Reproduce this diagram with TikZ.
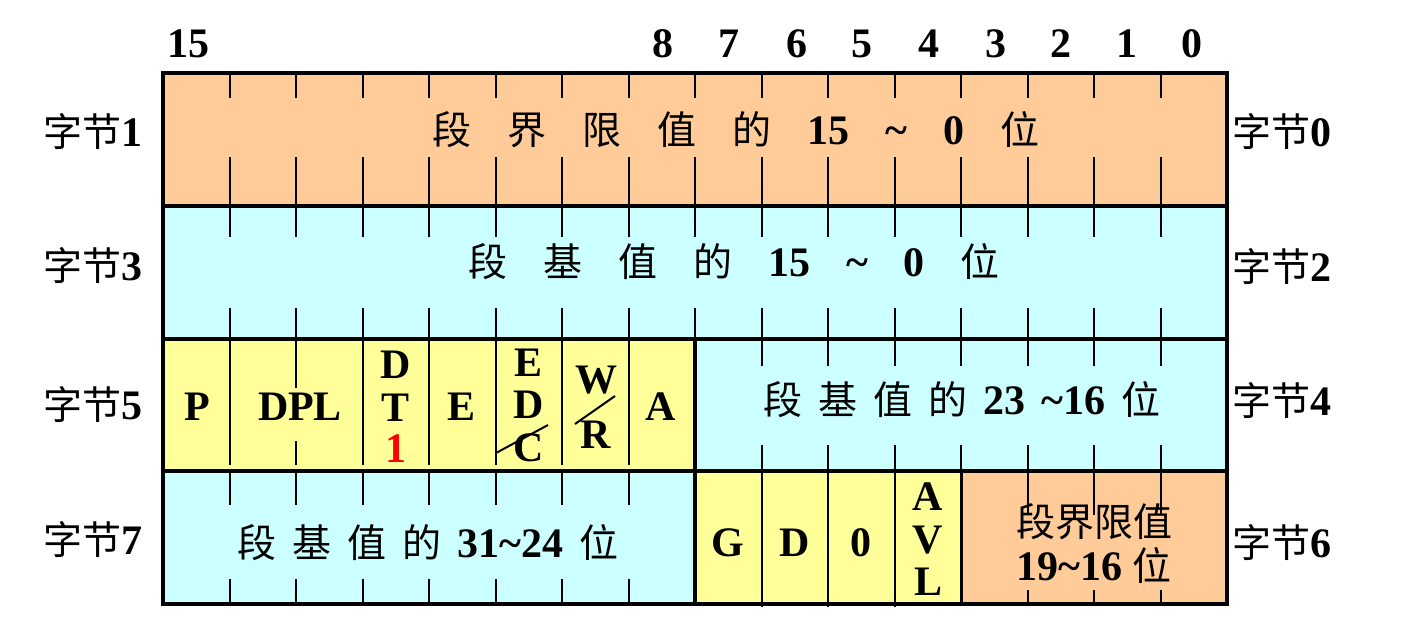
\documentclass[tikz,border=0pt]{standalone}
\usepackage{fontspec}
\setmainfont{Liberation Serif}
\newfontfamily\cjk{Noto Sans CJK SC}
\newcommand{\mytilde}{\textasciitilde}
\newcommand{\gapL}{\hspace{36pt}}
\newcommand{\gapS}{\hspace{16pt}}
\newcommand{\cjtxt}[1]{{\cjk\mdseries\fontsize{39}{44}\selectfont #1}}
\definecolor{peach}{HTML}{FFCC99}
\definecolor{aqua}{HTML}{CCFFFF}
\definecolor{lemon}{HTML}{FFFF99}
\tikzset{
  thickline/.style={line width=4pt, line cap=rect},
  thinline/.style={line width=2pt},
  txt/.style={inner sep=0pt, font=\fontsize{42}{46}\selectfont\bfseries},
}
\begin{document}
\begin{tikzpicture}[x=1pt,y=-1pt]
\useasboundingbox (0,0) rectangle (1401,638);
% fills
\fill[peach] (163,73) rectangle (1227,206);
\fill[aqua] (163,206) rectangle (1227,339);
\fill[lemon] (163,339) rectangle (695,471);
\fill[aqua] (695,339) rectangle (1227,471);
\fill[aqua] (163,471) rectangle (695,604);
\fill[lemon] (695,471) rectangle (961,604);
\fill[peach] (961,471) rectangle (1227,604);
% row 1 and 2 ticks
\foreach \i in {1,...,15}{
  \draw[thinline] (163+\i*66.5,73) -- (163+\i*66.5,98);
  \draw[thinline] (163+\i*66.5,157) -- (163+\i*66.5,206);
  \draw[thinline] (163+\i*66.5,206) -- (163+\i*66.5,237);
  \draw[thinline] (163+\i*66.5,308) -- (163+\i*66.5,339);
}
% row 3 yellow
\foreach \i in {1,3,4,5,6,7}{
  \draw[thinline] (163+\i*66.5,339) -- (163+\i*66.5,465);
}
\draw[thinline] (296,339) -- (296,388);
\draw[thinline] (296,441) -- (296,465);
% row 3 aqua
\foreach \i in {9,...,15}{
  \draw[thinline] (163+\i*66.5,339) -- (163+\i*66.5,366);
  \draw[thinline] (163+\i*66.5,445) -- (163+\i*66.5,471);
}
% row 4 aqua
\foreach \i in {1,...,7}{
  \draw[thinline] (163+\i*66.5,471) -- (163+\i*66.5,505);
  \draw[thinline] (163+\i*66.5,579) -- (163+\i*66.5,606);
}
% row 4 lemon
\foreach \i in {9,10,11}{
  \draw[thinline] (163+\i*66.5,471) -- (163+\i*66.5,607);
}
% row 4 peach
\foreach \i in {13,14,15}{
  \draw[thinline] (163+\i*66.5,471) -- (163+\i*66.5,515);
  \draw[thinline] (163+\i*66.5,590) -- (163+\i*66.5,604);
}
% thick borders
\draw[thickline] (163,73) rectangle (1227,604);
\draw[thickline] (163,206) -- (1227,206);
\draw[thickline] (163,339) -- (1227,339);
\draw[thickline] (163,471) -- (1227,471);
\draw[thickline] (695,339) -- (695,604);
\draw[line width=3pt] (961,471) -- (961,604);

% top bit numbers
\node[txt] (n15) at (188,44) {15};
\node[txt] (n8) at (663,44) {8};
\node[txt] (n7) at (729,44) {7};
\node[txt] (n6) at (797,44) {6};
\node[txt] (n5) at (862,44) {5};
\node[txt] (n4) at (929,44) {4};
\node[txt] (n3) at (996,44) {3};
\node[txt] (n2) at (1061,44) {2};
\node[txt] (n1) at (1127,44) {1};
\node[txt] (n0) at (1192,44) {0};

% byte labels
\node[txt, anchor=east] (l1) at (143,132) {\cjtxt{字节}1};
\node[txt, anchor=east] (l3) at (143,266) {\cjtxt{字节}3};
\node[txt, anchor=east] (l5) at (143,405) {\cjtxt{字节}5};
\node[txt, anchor=east] (l7) at (143,540) {\cjtxt{字节}7};
\node[txt, anchor=west] (r0) at (1232,132) {\cjtxt{字节}0};
\node[txt, anchor=west] (r2) at (1232,267) {\cjtxt{字节}2};
\node[txt, anchor=west] (r4) at (1232,401) {\cjtxt{字节}4};
\node[txt, anchor=west] (r6) at (1232,543) {\cjtxt{字节}6};

% row texts
\node[txt] (t1) at (736,130) {\cjtxt{段}\gapL\cjtxt{界}\gapL\cjtxt{限}\gapL\cjtxt{值}\gapL\cjtxt{的}\gapL 15\gapL\mytilde\gapL 0\gapL\cjtxt{位}};
\node[txt] (t2) at (734,262) {\cjtxt{段}\gapL\cjtxt{基}\gapL\cjtxt{值}\gapL\cjtxt{的}\gapL 15\gapL\mytilde\gapL 0\gapL\cjtxt{位}};
\node[txt] (t3) at (962,400) {\cjtxt{段}\gapS\cjtxt{基}\gapS\cjtxt{值}\gapS\cjtxt{的}\gapS 23\gapS\mytilde 16\gapS\cjtxt{位}};
\node[txt] (t4) at (428,543) {\cjtxt{段}\gapS\cjtxt{基}\gapS\cjtxt{值}\gapS\cjtxt{的}\gapS 31\mytilde 24\gapS\cjtxt{位}};
\node[txt] (t5a) at (1094,522) {\cjtxt{段界限值}};
\node[txt] (t5b) at (1094,565) {19\mytilde 16\hspace{10pt}\cjtxt{位}};

% row 3 flags
\node[txt] (fP) at (197,407) {P};
\node[txt] (fDPL) at (300,407) {DPL};
\node[txt] (fD) at (396,365) {D};
\node[txt] (fT) at (396,408) {T};
\node[txt, text=red] (fOne) at (396,449) {1};
\node[txt] (fE) at (462,407) {E};
\node[txt] (fE2) at (529,363) {E};
\node[txt] (fD2) at (529,405) {D};
\node[txt] (fC) at (529,448) {C};
\coordinate (s1a) at (496,453);
\coordinate (s1b) at (548,425);
\draw[thinline] (s1a) -- (s1b);
\node[txt] (fW) at (596,380) {W};
\node[txt] (fR) at (596,435) {R};
\coordinate (s2a) at (575,424);
\coordinate (s2b) at (615,396);
\draw[thinline] (s2a) -- (s2b);
\node[txt] (fA) at (661,407) {A};

% row 4 flags
\node[txt] (fG) at (728,543) {G};
\node[txt] (fD3) at (795,543) {D};
\node[txt] (fZ) at (861,543) {0};
\node[txt] (fA2) at (928,497) {A};
\node[txt] (fV) at (928,540) {V};
\node[txt] (fL) at (928,582) {L};
\end{tikzpicture}
\end{document}
